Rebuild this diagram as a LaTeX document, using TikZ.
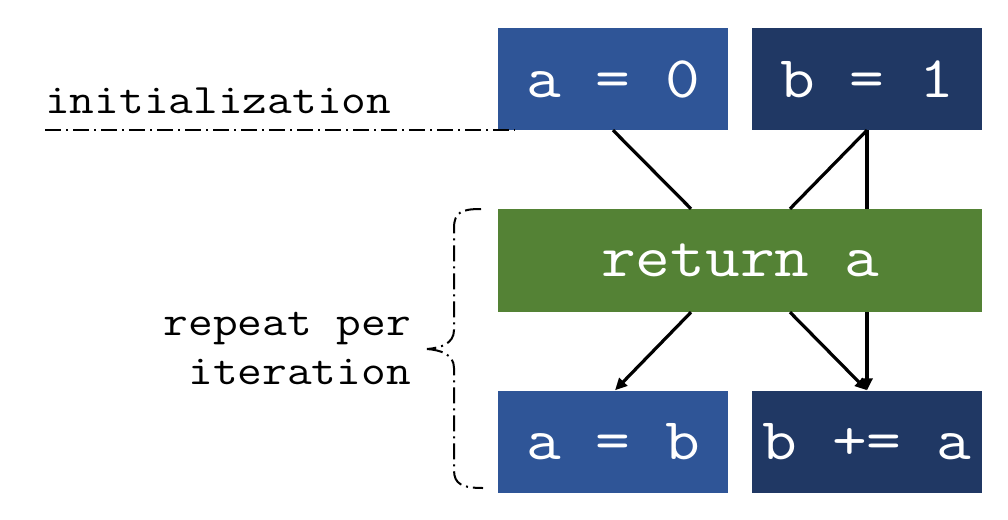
\documentclass[tikz,border=0pt]{standalone}
\usepackage{fontspec}
\newfontfamily\cour[FakeStretch=1.143]{Latin Modern Mono}
\definecolor{boxblue}{HTML}{2F5597}
\definecolor{boxdark}{HTML}{203864}
\definecolor{boxgreen}{HTML}{548235}
\usetikzlibrary{arrows.meta}
\tikzset{
  blk/.style={rectangle, inner sep=0pt, minimum width=230pt, minimum height=102pt, text=white, font=\cour\fontsize{59}{59}\selectfont},
  lbl/.style={inner sep=0pt, font=\cour\fontsize{42}{49}\selectfont},
  conn/.style={line width=3.2pt, black},
  arr/.style={conn, -{Triangle[length=12pt,width=11pt]}},
  dd/.style={line width=2pt, dash pattern=on 16pt off 5pt on 2pt off 5pt}
}
\begin{document}
\begin{tikzpicture}[x=1pt,y=-1pt]
\useasboundingbox (0,0) rectangle (1008,519);
\node[blk, fill=boxblue] (a0) at (613,79) {a = 0};
\node[blk, fill=boxdark] (b1) at (867,79) {b = 1};
\node[blk, fill=boxgreen, minimum width=484pt, minimum height=103pt] (ret) at (740,260.5) {return a};
\node[blk, fill=boxblue] (ab) at (613,441.5) {a = b};
\node[blk, fill=boxdark] (bpa) at (867,441.5) {b += a};
\draw[conn] (a0.south) -- ([xshift=-49pt]ret.north);
\draw[conn] (b1.south) -- ([xshift=50pt]ret.north);
\draw[conn] (b1.south) -- (ret.north -| b1.south);
\draw[arr] ([xshift=-49pt]ret.south) -- ([xshift=2pt]ab.north);
\draw[arr] ([xshift=50pt]ret.south) -- (bpa.north);
\draw[arr] (ret.south -| bpa.north) -- (bpa.north);
\node[lbl, anchor=base west] (init) at (45,113) {initialization};
\coordinate (initend) at (515,130);
\draw[dd] (init.south west |- initend) -- (initend);
\node[lbl, align=right, anchor=east] (rep) at (411,348) {repeat per\\iteration};
\coordinate (btop) at (481,209);
\coordinate (bbot) at (483,488);
\coordinate (btip) at (427,349);
\draw[dd] (btop) .. controls (462,209) and (454,212) .. (454,228) -- (454,330) .. controls (454,344) and (440,348) .. (btip);
\draw[dd] (btip) .. controls (440,350) and (454,354) .. (454,368) -- (454,470) .. controls (454,484) and (462,488) .. (bbot);
\end{tikzpicture}
\end{document}
